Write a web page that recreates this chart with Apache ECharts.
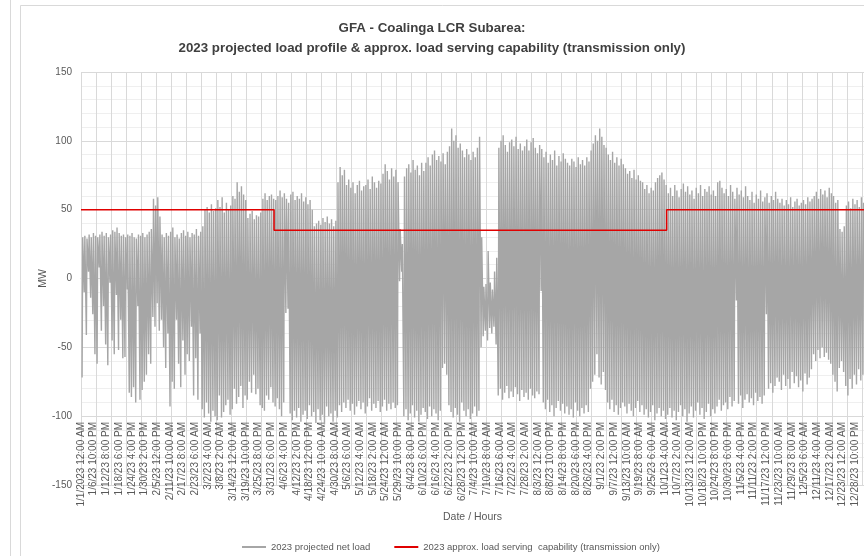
<!DOCTYPE html>
<html>
<head>
<meta charset="utf-8">
<script src="https://cdn.jsdelivr.net/npm/echarts@6/dist/echarts.min.js"></script>
<style>
  html, body { margin: 0; padding: 0; background: #fff; }
  #chart { width: 864px; height: 556px; }
</style>
</head>
<body>
<div id="chart"></div>
<script>
// daily evening peak of the projected net load (MW), day 0 = 1/1/2023
const dailyPeak = [
  30, 31, 29, 32, 30, 33, 31, 30, 32, 34,
  31, 33, 30, 32, 35, 34, 37, 33, 31, 32,
  30, 32, 31, 33, 30, 29, 32, 31, 33, 30,
  32, 34, 36, 58, 53, 59, 45, 32, 30, 33,
  31, 34, 37, 30, 32, 29, 33, 35, 31, 34,
  30, 33, 32, 36, 31, 34, 38, 50, 52, 48,
  54, 49, 51, 57, 52, 59, 48, 55, 50, 53,
  60, 58, 70, 63, 67, 61, 57, 44, 47, 49,
  43, 46, 45, 48, 58, 62, 57, 60, 61, 58,
  57, 60, 64, 59, 62, 58, 55, 61, 63, 57,
  60, 58, 62, 56, 59, 54, 57, 50, 38, 40,
  42, 39, 44, 41, 45, 40, 43, 38, 42, 70,
  81, 75, 79, 68, 72, 66, 70, 62, 68, 71,
  64, 67, 68, 72, 65, 74, 70, 66, 71, 69,
  76, 83, 78, 72, 80, 74, 79, 70, 36, 25,
  74, 80, 83, 77, 86, 79, 82, 75, 84, 78,
  84, 88, 82, 90, 93, 86, 89, 85, 91, 83,
  92, 96, 109, 100, 104, 95, 98, 93, 88, 94,
  90, 86, 92, 88, 95, 103, 30, -6, -4, 20,
  -3, -8, 5, 15, 95, 100, 104, 97, 92, 99,
  101, 96, 103, 94, 98, 93, 96, 101, 93, 99,
  102, 95, 91, 97, 94, 88, 92, 84, 90, 86,
  93, 82, 89, 85, 91, 87, 84, 82, 87, 85,
  81, 88, 83, 86, 82, 88, 85, 93, 98, 104,
  100, 109, 103, 97, 95, 90, 86, 92, 84, 88,
  82, 87, 83, 80, 76, 78, 73, 79, 72, 75,
  71, 70, 65, 68, 62, 66, 64, 70, 73, 75,
  77, 72, 68, 62, 66, 60, 68, 64, 59, 65,
  69, 63, 67, 61, 64, 58, 66, 62, 68, 60,
  65, 63, 67, 61, 64, 60, 70, 71, 66, 62,
  65, 60, 68, 63, 58, 66, 61, 64, 59, 67,
  60, 57, 63, 55, 61, 58, 64, 56, 59, 62,
  55, 60, 57, 63, 58, 55, 58, 53, 57, 54,
  59, 52, 56, 58, 53, 55, 57, 54, 59, 56,
  58, 60, 63, 58, 65, 61, 64, 59, 66, 62,
  60, 55, 57, 36, 34, 38, 53, 56, 51, 58,
  54, 57, 52, 59, 55
]

// daily midday minimum of the projected net load (MW)
const dailyLow = [
  -72, -10, -41, 5, -14, -26, -55, -62, 8, -38,
  -20, -48, -63, -3, -45, -55, -12, -52, -30, -58,
  -57, -8, -83, -86, -79, -90, -20, -88, -81, -75,
  -70, -55, -62, -28, -35, -18, -38, -30, -50, -65,
  -40, -93, -75, -80, -30, -62, -79, -45, -70, -55,
  -60, -35, -85, -58, -88, -40, -95, -101, -90, -98,
  -104, -96, -100, -103, -85, -101, -97, -92, -88, -99,
  -95, -80, -91, -86, -78, -94, -85, -88, -75, -83,
  -70, -84, -80, -92, -94, -96, -85, -88, -79, -90,
  -93, -87, -95, -100, -90, -25, -22, -98, -103, -96,
  -101, -94, -104, -99, -96, -102, -92, -100, -97, -105,
  -95, -103, -99, -106, -93, -100, -98, -104, -96, -101,
  -92, -97, -90, -94, -88, -96, -91, -99, -93, -89,
  -95, -90, -98, -93, -87, -96, -91, -94, -89, -97,
  -93, -88, -96, -91, -95, -90, -94, -92, -2, 5,
  -100, -95, -103, -98, -92, -101, -96, -104, -99, -94,
  -97, -102, -93, -100, -95, -98, -103, -96, -65, -62,
  -70, -92, -97, -101, -94, -99, -104, -90, -96, -100,
  -95, -102, -98, -93, -100, -96, -50, -42, -38, -45,
  -36, -40, -35, -48, -85, -80, -88, -83, -78, -87,
  -82, -86, -79, -84, -89, -81, -86, -83, -88, -80,
  -85, -87, -82, -84, -9, -90, -95, -88, -97, -92,
  -100, -94, -89, -96, -91, -98, -93, -99, -95, -101,
  -90, -96, -100, -94, -98, -92, -97, -80, -75, -70,
  -55, -72, -77, -68, -81, -90, -95, -88, -97, -92,
  -99, -94, -90, -93, -98, -91, -96, -100, -94, -89,
  -97, -92, -99, -95, -101, -97, -92, -103, -98, -94,
  -100, -96, -102, -99, -94, -101, -96, -103, -97, -92,
  -100, -95, -104, -98, -93, -101, -96, -90, -99, -94,
  -102, -97, -91, -100, -95, -98, -93, -88, -96, -92,
  -90, -95, -86, -93, -89, -16, -91, -85, -94, -88,
  -84, -90, -87, -92, -83, -89, -86, -91, -85, -26,
  -80, -76, -83, -78, -72, -75, -81, -70, -78, -73,
  -80, -68, -76, -71, -79, -74, -82, -69, -77, -72,
  -66, -55, -60, -52, -58, -50, -57, -54, -59, -62,
  -70, -75, -82, -65, -60, -68, -78, -85, -73, -80,
  -70, -77, -66, -74, -70
]

// load serving capability: hour where each level starts, and its value
const capabilityStartHour = [0, 2160, 6552]
const capabilityMW = [50, 35, 50]
const HOURS = 8760

const tickLabels = [
  '1/1/2023 12:00 AM', '1/6/23 10:00 PM', '1/12/23 8:00 PM', '1/18/23 6:00 PM',
  '1/24/23 4:00 PM', '1/30/23 2:00 PM', '2/5/23 12:00 PM', '2/11/23 10:00 AM',
  '2/17/23 8:00 AM', '2/23/23 6:00 AM', '3/2/23 4:00 AM', '3/8/23 2:00 AM',
  '3/14/23 12:00 AM', '3/19/23 10:00 PM', '3/25/23 8:00 PM', '3/31/23 6:00 PM',
  '4/6/23 4:00 PM', '4/12/23 2:00 PM', '4/18/23 12:00 PM', '4/24/23 10:00 AM',
  '4/30/23 8:00 AM', '5/6/23 6:00 AM', '5/12/23 4:00 AM', '5/18/23 2:00 AM',
  '5/24/23 12:00 AM', '5/29/23 10:00 PM', '6/4/23 8:00 PM', '6/10/23 6:00 PM',
  '6/16/23 4:00 PM', '6/22/23 2:00 PM', '6/28/23 12:00 PM', '7/4/23 10:00 AM',
  '7/10/23 8:00 AM', '7/16/23 6:00 AM', '7/22/23 4:00 AM', '7/28/23 2:00 AM',
  '8/3/23 12:00 AM', '8/8/23 10:00 PM', '8/14/23 8:00 PM', '8/20/23 6:00 PM',
  '8/26/23 4:00 PM', '9/1/23 2:00 PM', '9/7/23 12:00 PM', '9/13/23 10:00 AM',
  '9/19/23 8:00 AM', '9/25/23 6:00 AM', '10/1/23 4:00 AM', '10/7/23 2:00 AM',
  '10/13/23 12:00 AM', '10/18/23 10:00 PM', '10/24/23 8:00 PM', '10/30/23 6:00 PM',
  '11/5/23 4:00 PM', '11/11/23 2:00 PM', '11/17/23 12:00 PM', '11/23/23 10:00 AM',
  '11/29/23 8:00 AM', '12/5/23 6:00 AM', '12/11/23 4:00 AM', '12/17/23 2:00 AM',
  '12/23/23 12:00 AM', '12/28/23 10:00 PM'
]
const LABEL_STEP = 142
const GRID_STEP = 168

// each day: midday low then evening peak
const loadPoints = []
dailyPeak.forEach((peak, d) => {
  loadPoints.push([d * 24 + 12, dailyLow[d]])
  loadPoints.push([d * 24 + 19, peak])
})

const capPoints = capabilityStartHour.map((h, i) => [h, capabilityMW[i]])
capPoints.push([HOURS, capabilityMW[capabilityMW.length - 1]])

const font = 'Liberation Sans'
const textGray = '#595959'
const gridGray = '#d9d9d9'

const chart = echarts.init(document.getElementById('chart'))
chart.setOption({
  animation: false,
  backgroundColor: '#fff',
  textStyle: { fontFamily: font },
  title: {
    text: 'GFA - Coalinga LCR Subarea:\n2023 projected load profile & approx. load serving capability (transmission only)',
    left: 'center',
    top: 13,
    textStyle: {
      fontFamily: font,
      fontSize: 13.3,
      fontWeight: 'bold',
      color: '#404040',
      lineHeight: 20
    }
  },
  graphic: [
    { type: 'line', shape: { x1: 10.5, y1: 0, x2: 10.5, y2: 556 }, style: { stroke: gridGray } },
    { type: 'line', shape: { x1: 20.5, y1: 5.5, x2: 20.5, y2: 556 }, style: { stroke: gridGray } },
    { type: 'line', shape: { x1: 20.5, y1: 5.5, x2: 864, y2: 5.5 }, style: { stroke: gridGray } }
  ],
  legend: {
    left: 237,
    top: 537,
    icon: 'rect',
    itemWidth: 24,
    itemHeight: 2,
    itemGap: 24,
    textStyle: { fontSize: 9.5, color: textGray, fontFamily: font },
    data: ['2023 projected net load', '2023 approx. load serving  capability (transmission only)']
  },
  grid: { left: 81, top: 72, width: 783, height: 413 },
  xAxis: [
    {
      type: 'value',
      min: 0,
      max: HOURS,
      interval: LABEL_STEP,
      position: 'bottom',
      offset: -69,
      name: 'Date / Hours',
      nameLocation: 'middle',
      nameGap: 96,
      nameMoveOverlap: false,
      nameTextStyle: { fontSize: 10.5, color: textGray },
      axisLine: { show: true, lineStyle: { color: gridGray } },
      axisTick: { show: false },
      splitLine: { show: false },
      axisLabel: {
        rotate: 90,
        fontSize: 10,
        color: textGray,
        margin: 6,
        showMaxLabel: false,
        formatter: v => (v % LABEL_STEP === 0 ? (tickLabels[v / LABEL_STEP] || '') : '')
      }
    },
    {
      type: 'value',
      min: 0,
      max: HOURS,
      interval: GRID_STEP,
      position: 'bottom',
      axisLine: { show: false },
      axisTick: { show: false },
      axisLabel: { show: false },
      splitLine: { show: true, lineStyle: { color: gridGray } }
    }
  ],
  yAxis: {
    type: 'value',
    min: -150,
    max: 150,
    interval: 50,
    name: 'MW',
    nameLocation: 'middle',
    nameRotate: 90,
    nameGap: 32,
    nameMoveOverlap: false,
    nameTextStyle: { fontSize: 10.5, color: textGray },
    axisLine: { show: false },
    axisTick: { show: false },
    axisLabel: { fontSize: 10, color: textGray, margin: 9 },
    splitLine: { lineStyle: { color: gridGray } },
    minorTick: { show: false, splitNumber: 5 },
    minorSplitLine: { show: true, lineStyle: { color: '#efefef' } }
  },
  series: [
    {
      name: '2023 projected net load',
      type: 'line',
      xAxisIndex: 0,
      data: loadPoints,
      symbol: 'none',
      lineStyle: { color: '#a6a6a6', width: 1.4 },
      itemStyle: { color: '#a6a6a6' },
      z: 2
    },
    {
      name: '2023 approx. load serving  capability (transmission only)',
      type: 'line',
      xAxisIndex: 0,
      step: 'end',
      data: capPoints,
      symbol: 'none',
      lineStyle: { color: '#e00000', width: 1.5 },
      itemStyle: { color: '#e00000' },
      z: 3
    }
  ]
})
</script>
</body>
</html>
